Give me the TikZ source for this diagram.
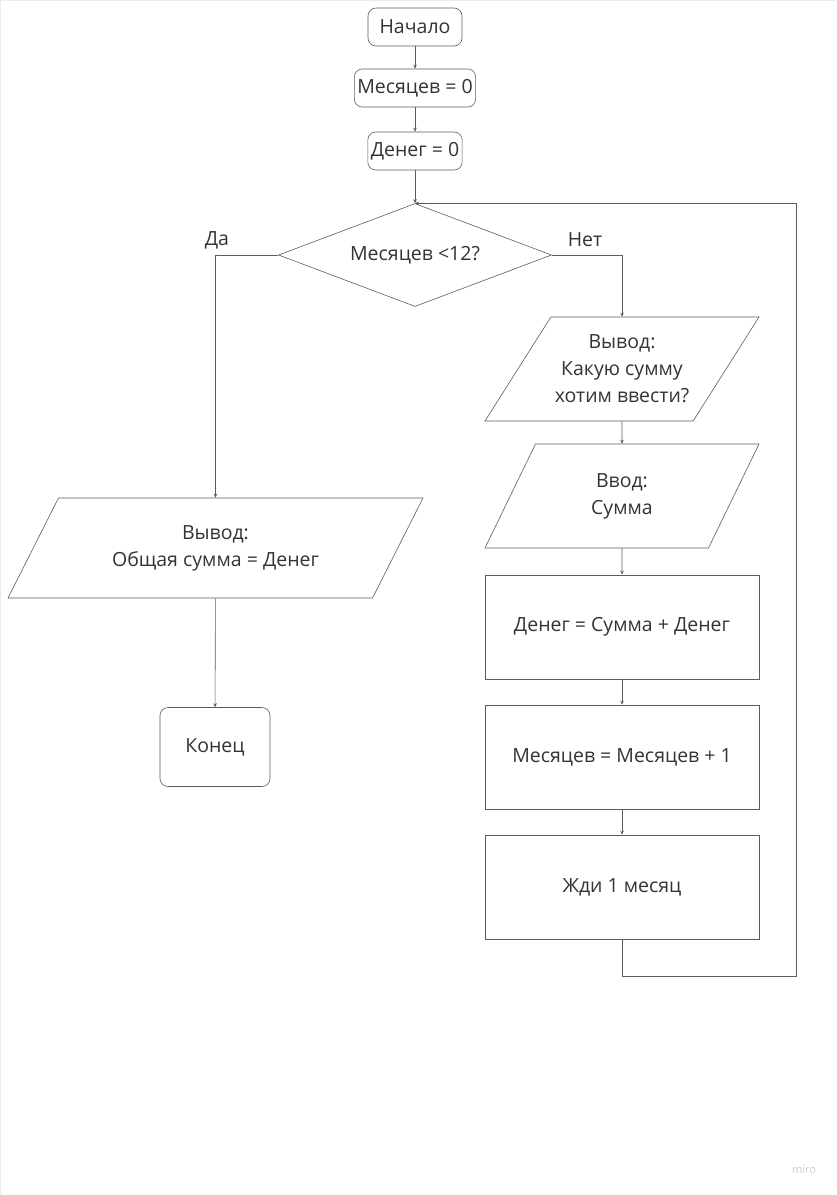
\documentclass[tikz,border=0pt]{standalone}
\usepackage{fontspec}
\setmainfont{Open Sans}
\usetikzlibrary{shapes.geometric,arrows.meta}
\definecolor{linegray}{HTML}{5C5C5C}
\definecolor{textgray}{HTML}{333333}
\begin{document}
\begin{tikzpicture}[x=1pt,y=-1pt,
  every node/.style={font=\fontsize{19.5}{27}\selectfont,text=textgray,align=center},
  roundbox/.style={draw=linegray,line width=.6pt,rounded corners=8pt,minimum width=94pt,minimum height=38pt,inner xsep=3pt},
  decision/.style={draw=linegray,line width=.6pt,diamond,aspect=2.65,minimum width=273pt,minimum height=103pt,inner sep=0pt},
  iobox/.style={draw=linegray,line width=.6pt,trapezium,trapezium left angle=46,trapezium right angle=134,trapezium stretches body,minimum height=100pt},
  procbox/.style={draw=linegray,line width=.6pt,rectangle,minimum width=274pt,minimum height=104pt},
  conn/.style={draw=linegray,line width=.6pt,-{Stealth[length=4pt,width=3.5pt]}}]
\useasboundingbox (0,0) rectangle (836,1195);
\draw[gray!15] (0.5,1195) -- (0.5,0.5) -- (836,0.5);
% main column
\node[roundbox] (start) at (415,27) {Начало};
\node[roundbox] (months0) at (415,88) {Месяцев = 0};
\node[roundbox] (money0) at (415,151) {Денег = 0};
\node[decision] (cond) at (415,255) {Месяцев <12?};
\node at (217,240) (yes) {Да};
\node at (585,240) (no) {Нет};
% left branch
\node[iobox,minimum width=415pt] (total) at (215.5,548) {Вывод:\\Общая сумма = Денег};
\node[roundbox,minimum width=110pt,minimum height=79pt] (stop) at (215,747) {\raisebox{-2pt}{Конец}};
% right branch
\node[iobox,minimum width=274pt,minimum height=104pt,inner xsep=0pt,inner ysep=0pt] (ask) at (622,369) {Вывод:\\Какую сумму\\хотим ввести?};
\node[iobox,minimum width=274pt,minimum height=104pt] (input) at (622,496) {Ввод:\\Сумма};
\node[procbox] (addmoney) at (622,627) {\raisebox{-2pt}{Денег = Сумма + Денег}};
\node[procbox] (addmonth) at (622,757) {\raisebox{-2pt}{Месяцев = Месяцев + 1}};
\node[procbox] (wait) at (622,887) {\raisebox{-2pt}{Жди 1 месяц}};
\coordinate (loopend) at (796,976);
\node[font=\fontsize{11}{13}\selectfont,text=gray!40] (logo) at (804,1170) {miro};
% connectors
\draw[conn] (start) -- (months0);
\draw[conn] (months0) -- (money0);
\draw[conn] (money0) -- (cond.north);
\draw[conn] (cond.west) -| (total.north);
\draw[conn] (total) -- (stop);
\draw[conn] (cond.east) -| (ask.north);
\draw[conn] (ask) -- (input);
\draw[conn] (input) -- (addmoney);
\draw[conn] (addmoney) -- (addmonth);
\draw[conn] (addmonth) -- (wait);
\draw[conn] (wait.south) |- (loopend) |- (cond.north);
\end{tikzpicture}
\end{document}
